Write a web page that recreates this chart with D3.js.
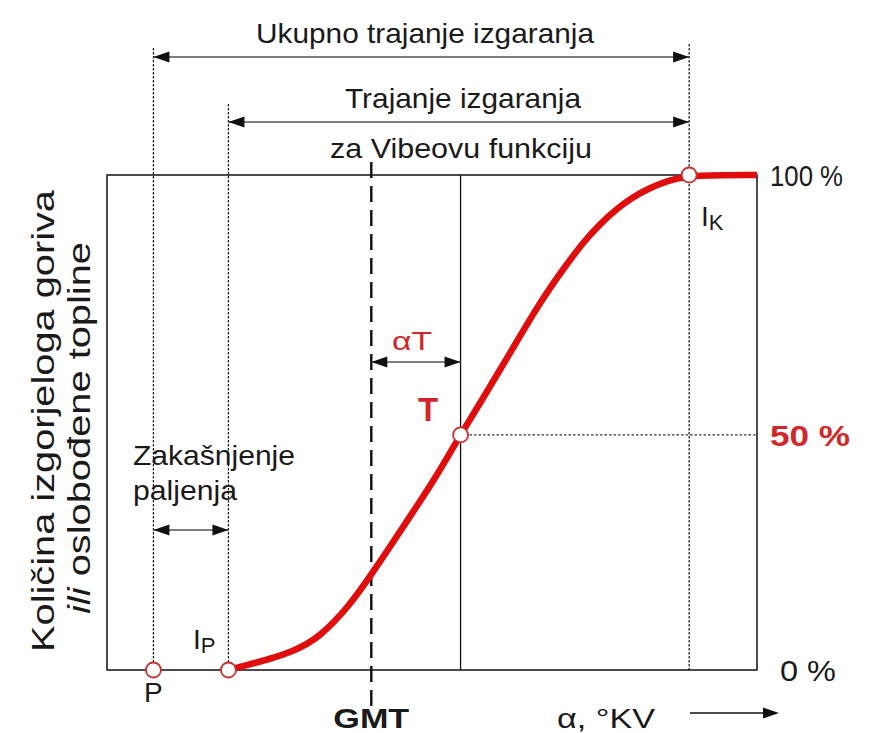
<!DOCTYPE html>
<html>
<head>
<meta charset="utf-8">
<script src="https://cdn.jsdelivr.net/npm/d3@7"></script>
<style>
  body { margin: 0; background: #fff; }
  svg text { font-family: "Liberation Sans", Arial, sans-serif; fill: #1a1a1a; }
</style>
</head>
<body>
<svg id="chart" width="874" height="733"></svg>
<script>
// --- DATA ---
// crank angle in degrees (GMT = 0) and burnt fuel fraction in %
const curveAlpha = [-20, -16.6, -13.8, -11.0, -9.0, -7.2, -5.4, -3.4, -1.6, 0.1, 2.2, 4.4, 6.8, 9.2, 11.4, 12.5, 15.6, 18.0, 20.4, 22.6, 25.0, 27.4, 29.6, 32.0, 34.4, 36.6, 39.0, 41.4, 44.5, 54];
const curvePct   = [0, 1.3, 2.4, 3.8, 5.2, 7.0, 9.4, 12.6, 16.0, 19.5, 24.0, 28.8, 34.0, 39.4, 44.8, 47.5, 54.8, 60.6, 66.4, 71.8, 77.2, 82.0, 86.3, 90.1, 93.2, 95.5, 97.4, 98.8, 100, 100];

const pointNames = ['P', 'IP', 'T', 'IK'];
const pointAlpha = [-30.5, -20, 12.5, 44.5];
const pointPct   = [0, 0, 47.5, 100];

const gmtAlpha = 0;
const yTickLabels = ['0 %', '50 %', '100 %'];
const yTickValues = [0, 47.5, 100];

const svg = d3.select('#chart');

const x = d3.scaleLinear().domain([-37, 54]).range([107, 757]);
const y = d3.scaleLinear().domain([0, 100]).range([670, 175]);

const RED = '#e00d0d';
const RED_TXT = '#d0282a';

function arrowHead(px, py, dir) {
    // dir = +1 points right, -1 points left
    const L = 16, W = 5.5;
    svg.append('path')
        .attr('d', `M${px},${py} L${px - dir * L},${py - W} L${px - dir * L},${py + W} Z`)
        .attr('fill', '#111');
}
function dimArrow(x1, x2, yy) {
    svg.append('line').attr('x1', x1).attr('x2', x2).attr('y1', yy).attr('y2', yy)
        .attr('stroke', '#555').attr('stroke-width', 1.3);
    arrowHead(x1, yy, -1);
    arrowHead(x2, yy, 1);
}
function vline(xx, y1, y2, dash, w) {
    svg.append('line').attr('x1', xx).attr('x2', xx).attr('y1', y1).attr('y2', y2)
        .attr('stroke', '#111').attr('stroke-width', w || 1.2)
        .attr('stroke-dasharray', dash || null);
}
function label(t, xx, yy, size, anchor) {
    return svg.append('text').attr('x', xx).attr('y', yy)
        .attr('font-size', size).attr('text-anchor', anchor || 'middle').text(t);
}
function fit(sel, len) {
    return sel.attr('textLength', len).attr('lengthAdjust', 'spacingAndGlyphs');
}

const xP = x(pointAlpha[0]), xIP = x(pointAlpha[1]), xT = x(pointAlpha[2]), xIK = x(pointAlpha[3]);
const xG = x(gmtAlpha);

// frame
svg.append('rect')
    .attr('x', x.range()[0]).attr('y', y(100))
    .attr('width', x.range()[1] - x.range()[0]).attr('height', y(0) - y(100))
    .attr('fill', 'none').attr('stroke', '#111').attr('stroke-width', 1.5);

// guide lines
vline(xP, 48, y(0), '2.5,1.5', 1.2);
vline(xIP, 104, y(0), '2.5,1.5', 1.2);
vline(xIK, 44, y(0), '2.5,1.5', 1.2);
vline(xG, 162, 708, '16,8', 2.4);
vline(xT, y(100), y(0), null, 1.3);

// 50 % dotted line
svg.append('line')
    .attr('x1', xT).attr('x2', x.range()[1]).attr('y1', y(pointPct[2])).attr('y2', y(pointPct[2]))
    .attr('stroke', '#333').attr('stroke-width', 1.2).attr('stroke-dasharray', '2.5,2');

// dimension arrows
dimArrow(xP, xIK, 57);
dimArrow(xIP, xIK, 122);
dimArrow(xG, xT, 362);
dimArrow(xP, xIP, 530);

// x direction arrow
svg.append('line').attr('x1', 690).attr('x2', 765).attr('y1', 713).attr('y2', 713)
    .attr('stroke', '#111').attr('stroke-width', 1.4);
arrowHead(779, 713, 1);

// curve
const line = d3.line().x((d, i) => x(curveAlpha[i])).y((d, i) => y(curvePct[i])).curve(d3.curveBasis);
svg.append('path').datum(curveAlpha)
    .attr('d', line)
    .attr('fill', 'none').attr('stroke', RED).attr('stroke-width', 6.5);

// points
svg.selectAll('circle.pt')
    .data(pointNames)
    .join('circle')
    .attr('class', 'pt')
    .attr('cx', (d, i) => x(pointAlpha[i]))
    .attr('cy', (d, i) => y(pointPct[i]))
    .attr('r', 7.5)
    .attr('fill', '#fff').attr('stroke', '#c8302c').attr('stroke-width', 1.8);

// y tick labels
svg.selectAll('text.ytick')
    .data(yTickLabels)
    .join('text')
    .attr('class', 'ytick')
    .attr('x', (d, i) => i === 0 ? 780 : 770)
    .attr('y', (d, i) => y(yTickValues[i]) + 11)
    .attr('font-size', 30)
    .attr('font-weight', (d, i) => i === 1 ? 'bold' : null)
    .attr('textLength', (d, i) => [56, 80, 73][i])
    .attr('lengthAdjust', 'spacingAndGlyphs')
    .style('fill', (d, i) => i === 1 ? RED_TXT : '#1a1a1a')
    .text(d => d);

// titles
fit(label('Ukupno trajanje izgaranja', 425, 43, 28), 338);
fit(label('Trajanje izgaranja', 463, 108, 28), 236);
fit(label('za Vibeovu funkciju', 461, 158, 28), 262);
fit(label('Zakašnjenje', 133, 465, 28, 'start'), 162);
fit(label('paljenja', 133, 500, 28, 'start'), 104);
label('P', xP, 702, 28);
fit(label('GMT', xG, 728, 27), 76).attr('font-weight', 'bold');
fit(label('α, °KV', 557, 728, 28, 'start'), 98);

// subscripted point labels
const ip = svg.append('text').attr('x', 193).attr('y', 649).attr('font-size', 28);
ip.append('tspan').text('I');
ip.append('tspan').attr('font-size', 22).attr('dy', 4).text('P');
const ik = svg.append('text').attr('x', 701).attr('y', 226).attr('font-size', 28);
ik.append('tspan').text('I');
ik.append('tspan').attr('font-size', 22).attr('dy', 4).text('K');

fit(label('αT', 412, 350, 26), 40).style('fill', RED_TXT);
label('T', 428, 421, 33).attr('font-weight', 'bold').style('fill', RED_TXT);

// y axis title
const yt = svg.append('g').attr('transform', 'translate(0,421) rotate(-90)');
fit(yt.append('text').attr('x', 0).attr('y', 54).attr('font-size', 31)
    .attr('text-anchor', 'middle').text('Količina izgorjeloga goriva'), 462);
const yt2 = yt.append('text').attr('x', -7).attr('y', 90).attr('font-size', 31)
    .attr('text-anchor', 'middle');
fit(yt2, 372);
yt2.append('tspan').attr('font-style', 'italic').text('ili');
yt2.append('tspan').text(' oslobođene topline');
</script>
</body>
</html>
